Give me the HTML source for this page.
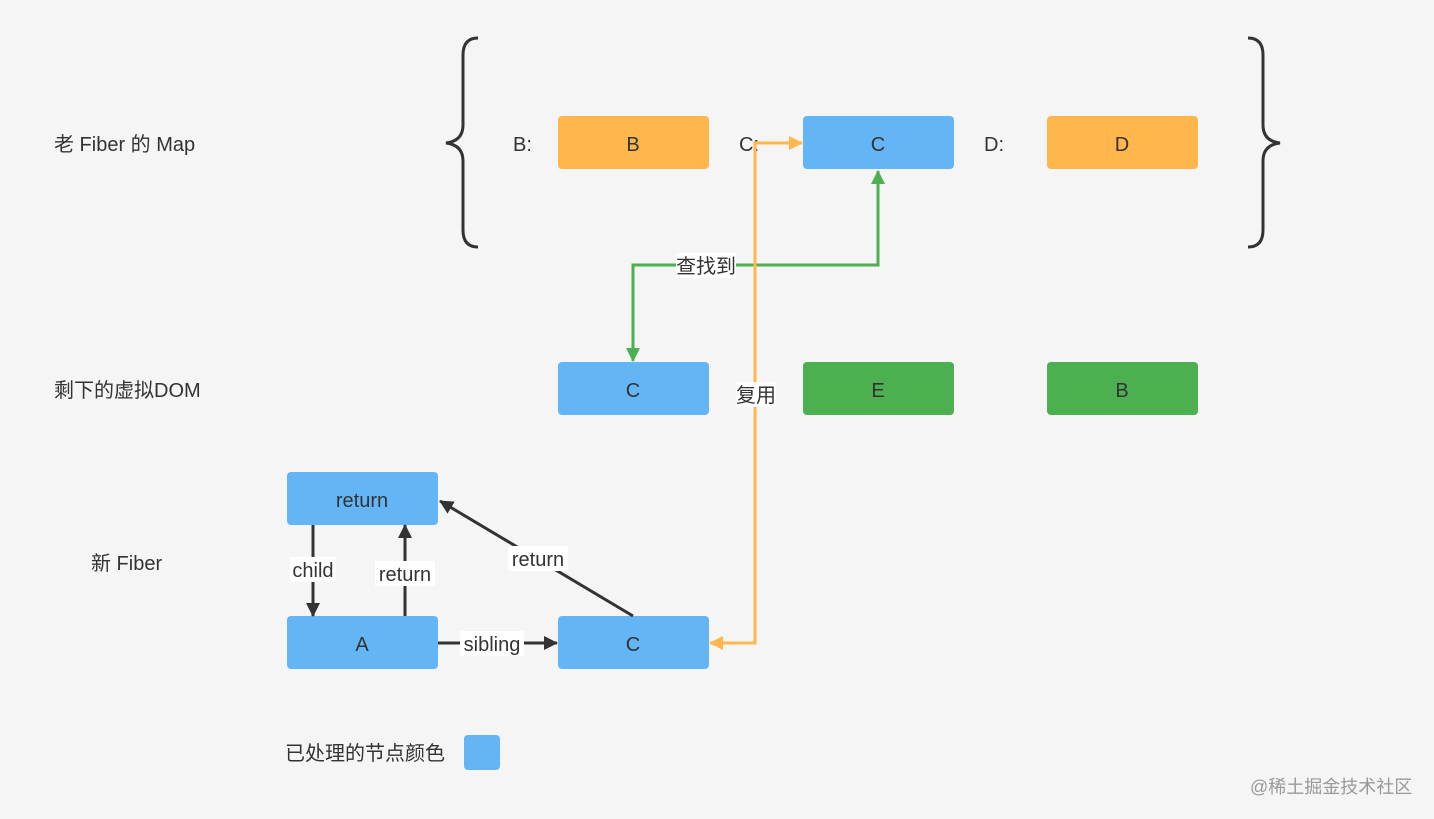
<!DOCTYPE html>
<html><head><meta charset="utf-8"><style>
html,body{margin:0;padding:0;background:#f5f5f5;}
svg{display:block;font-family:"Liberation Sans","Noto Sans CJK SC",sans-serif;}
</style></head><body>
<svg width="1434" height="819" viewBox="0 0 1434 819">
<rect width="1434" height="819" fill="#f5f5f5"/>
<defs>
<marker id="ao" markerWidth="14" markerHeight="14" refX="13" refY="7" orient="auto" markerUnits="userSpaceOnUse" viewBox="0 0 14 14"><path d="M0,0 L14,7 L0,14 Z" fill="#ffb74d"/></marker>
<marker id="ag" markerWidth="14" markerHeight="14" refX="13" refY="7" orient="auto" markerUnits="userSpaceOnUse" viewBox="0 0 14 14"><path d="M0,0 L14,7 L0,14 Z" fill="#4caf50"/></marker>
<marker id="ak" markerWidth="14" markerHeight="14" refX="13" refY="7" orient="auto" markerUnits="userSpaceOnUse" viewBox="0 0 14 14"><path d="M0,0 L14,7 L0,14 Z" fill="#333"/></marker>
</defs>
<g font-size="20" fill="#333">
<text x="54" y="151">老 Fiber 的 Map</text>
<text x="54" y="397">剩下的虚拟DOM</text>
<text x="91" y="570">新 Fiber</text>
<text x="285" y="760">已处理的节点颜色</text>
<text x="513" y="151">B:</text>
<text x="739" y="151">C:</text>
<text x="984" y="151">D:</text>
</g>
<text x="1250" y="793" font-size="18" fill="#999">@稀土掘金技术社区</text>
<g fill="none" stroke="#333" stroke-width="3">
<path d="M478,38 Q463,38 463,55 L463,125 Q463,141 446,143 Q463,145 463,161 L463,230 Q463,247 478,247"/>
<path d="M1248,38 Q1263,38 1263,55 L1263,125 Q1263,141 1280,143 Q1263,145 1263,161 L1263,230 Q1263,247 1248,247"/>
</g>
<g>
<rect x="558" y="116" width="151" height="53" rx="4" fill="#ffb74d"/>
<rect x="803" y="116" width="151" height="53" rx="4" fill="#64b5f6"/>
<rect x="1047" y="116" width="151" height="53" rx="4" fill="#ffb74d"/>
<rect x="558" y="362" width="151" height="53" rx="4" fill="#64b5f6"/>
<rect x="803" y="362" width="151" height="53" rx="4" fill="#4caf50"/>
<rect x="1047" y="362" width="151" height="53" rx="4" fill="#4caf50"/>
<rect x="287" y="472" width="151" height="53" rx="4" fill="#64b5f6"/>
<rect x="287" y="616" width="151" height="53" rx="4" fill="#64b5f6"/>
<rect x="558" y="616" width="151" height="53" rx="4" fill="#64b5f6"/>
<rect x="464" y="735" width="36" height="35" rx="4" fill="#64b5f6"/>
</g>
<g font-size="20" fill="#333" text-anchor="middle">
<text x="633" y="151">B</text>
<text x="878" y="151">C</text>
<text x="1122" y="151">D</text>
<text x="633" y="397">C</text>
<text x="878" y="397">E</text>
<text x="1122" y="397">B</text>
<text x="362" y="507">return</text>
<text x="362" y="651">A</text>
<text x="633" y="651">C</text>
</g>
<polyline points="633,265 878,265 878,171" fill="none" stroke="#4caf50" stroke-width="3" marker-end="url(#ag)"/>
<polyline points="878,265 633,265 633,361" fill="none" stroke="#4caf50" stroke-width="3" marker-end="url(#ag)"/>
<polyline points="755,143 755,643 710,643" fill="none" stroke="#ffb74d" stroke-width="3" marker-end="url(#ao)"/>
<polyline points="755,643 755,143 802,143" fill="none" stroke="#ffb74d" stroke-width="3" marker-end="url(#ao)"/>
<g stroke="#333" stroke-width="3" fill="none">
<line x1="313" y1="525" x2="313" y2="616" marker-end="url(#ak)"/>
<line x1="405" y1="616" x2="405" y2="525" marker-end="url(#ak)"/>
<line x1="438" y1="643" x2="557" y2="643" marker-end="url(#ak)"/>
<line x1="633" y1="616" x2="440" y2="501" marker-end="url(#ak)"/>
</g>
<g font-size="20" fill="#333" text-anchor="middle">
<rect x="676" y="253" width="60" height="25" fill="#fff"/><text x="706" y="273">查找到</text>
<rect x="736" y="382" width="40" height="25" fill="#fff"/><text x="756" y="402">复用</text>
<rect x="290" y="557" width="46" height="25" fill="#fff"/><text x="313" y="577">child</text>
<rect x="375" y="561" width="60" height="25" fill="#fff"/><text x="405" y="581">return</text>
<rect x="508" y="546" width="60" height="25" fill="#fff"/><text x="538" y="566">return</text>
<rect x="460" y="631" width="64" height="25" fill="#fff"/><text x="492" y="651">sibling</text>
</g>
</svg>
</body></html>
